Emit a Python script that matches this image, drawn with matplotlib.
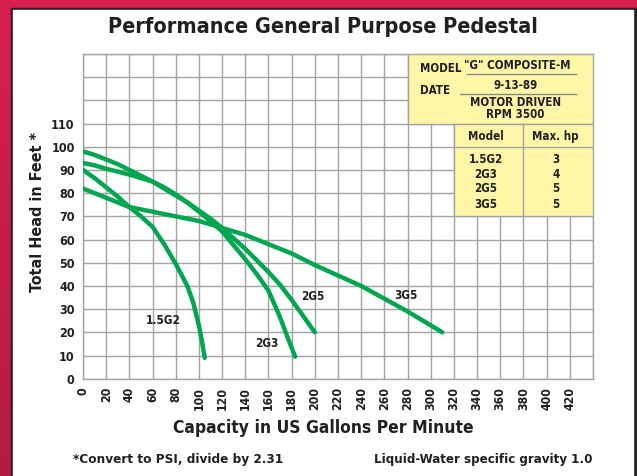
import matplotlib
matplotlib.use("Agg")
import matplotlib.pyplot as plt
import numpy as np
from matplotlib.patches import Rectangle
from matplotlib.colors import LinearSegmentedColormap

plt.rcParams['font.family'] = ['DejaVu Sans']
plt.rcParams['font.stretch'] = 'condensed'
plt.rcParams['font.weight'] = 'bold'

# pump curves (capacity gpm, head ft)
x_15g2 = [0, 10, 20, 30, 40, 50, 60, 70, 80, 90, 95, 100, 103, 105]
y_15g2 = [90, 86.5, 82.5, 78.5, 74, 70, 65.5, 58, 49.5, 40, 33, 23, 15, 9]

x_2g3 = [0, 10, 20, 30, 40, 50, 60, 70, 80, 90, 100, 110, 120, 130, 140, 150, 160, 170, 176, 183]
y_2g3 = [93, 92, 90.5, 89.3, 88, 86.5, 85, 82.5, 79.5, 76, 72, 68, 63.5, 57.5, 51.5, 45, 38, 26.5, 18.5, 9.5]

x_2g5 = [0, 10, 20, 30, 40, 50, 60, 70, 80, 90, 100, 110, 120, 130, 140, 150, 160, 170, 180, 190, 200]
y_2g5 = [98, 96.5, 94.5, 92.5, 90, 87.5, 85, 82, 79, 76, 72.5, 69, 65, 60.5, 56, 51, 46, 40.5, 34, 27, 20]

x_3g5 = [0, 20, 40, 60, 80, 100, 120, 140, 160, 180, 200, 220, 240, 260, 280, 300, 310]
y_3g5 = [82, 78, 74, 72, 70, 68, 65, 62, 58, 54, 49, 44.5, 40, 34.5, 29, 23, 20]

models = ['1.5G2', '2G3', '2G5', '3G5']
max_hp = ['3', '4', '5', '5']

xticks = list(range(0, 421, 20))
yticks = list(range(0, 111, 10))

green = '#00a650'
gridc = '#a3a3a3'
yellow = '#fff6a8'
ink = '#231f20'

fig = plt.figure(figsize=(6.37, 4.76), dpi=100)

# red frame with gradient
bg = fig.add_axes([0, 0, 1, 1], zorder=-10)
grad = np.linspace(0, 1, 256).reshape(-1, 1)
cm = LinearSegmentedColormap.from_list('r', ['#d81f4e', '#b41b40'])
bg.imshow(grad, aspect='auto', cmap=cm, extent=[0, 637, 476, 0])
bg.add_patch(Rectangle((11, 8), 626, 468, color='#222222'))
bg.add_patch(Rectangle((13, 10), 620, 466, color='white'))
bg.set_xlim(0, 637)
bg.set_ylim(476, 0)
bg.axis('off')

ax = fig.add_axes([83 / 637, 1 - 378.7 / 476, 510 / 637, 324.7 / 476])
ax.set_xlim(0, 440)
ax.set_ylim(0, 140)
ax.set_xticks(range(0, 441, 20), minor=True)
ax.set_yticks(range(0, 141, 10), minor=True)
ax.set_xticks(xticks)
ax.set_yticks(yticks)
ax.set_xticklabels([str(v) for v in xticks], rotation=90, fontsize=8.8, fontweight='bold')
ax.set_yticklabels([str(v) for v in yticks], fontsize=9, fontweight='bold')
ax.tick_params(which='both', length=0, pad=6, colors=ink)
ax.grid(which='both', color=gridc, linewidth=1)
for s in ax.spines.values():
    s.set_color(gridc)
    s.set_linewidth(1)
ax.set_facecolor('white')

# yellow info boxes
ax.add_patch(Rectangle((280, 110), 160, 30, facecolor=yellow, edgecolor=gridc, lw=1, zorder=3))
ax.add_patch(Rectangle((320, 70), 120, 40, facecolor=yellow, edgecolor=gridc, lw=1, zorder=3))
ax.plot([320, 440], [100, 100], color=gridc, lw=1, zorder=4)
ax.plot([380, 380], [70, 110], color=gridc, lw=1, zorder=4)

tk = dict(fontsize=8.3, fontweight='bold', color=ink, zorder=5)
ax.text(291, 133.9, 'MODEL', ha='left', va='center', **tk)
ax.text(375, 135.2, '"G" COMPOSITE-M', ha='center', va='center', **tk)
ax.plot([331, 425], [131.3, 131.3], color='#888888', lw=1, zorder=5)
ax.text(291, 124.4, 'DATE', ha='left', va='center', **tk)
ax.text(373, 126.6, '9-13-89', ha='center', va='center', **tk)
ax.plot([325, 425], [122.7, 122.7], color='#888888', lw=1, zorder=5)
ax.text(373, 119.3, 'MOTOR DRIVEN', ha='center', va='center', **tk)
ax.text(373, 114.1, 'RPM 3500', ha='center', va='center', **tk)
ax.text(347.4, 104.6, 'Model', ha='center', va='center', **tk)
ax.text(407.8, 104.6, 'Max. hp', ha='center', va='center', **tk)
row_y = [94.7, 88.2, 81.8, 75.3]
for m, hp, ry in zip(models, max_hp, row_y):
    ax.text(347.4, ry, m, ha='center', va='center', **tk)
    ax.text(407.8, ry, hp, ha='center', va='center', **tk)

# curves
for xs, ys in [(x_15g2, y_15g2), (x_2g3, y_2g3), (x_2g5, y_2g5), (x_3g5, y_3g5)]:
    ax.plot(xs, ys, color=green, lw=3.2, solid_capstyle='round', solid_joinstyle='round', zorder=6)

lk = dict(fontsize=8.5, fontweight='bold', color=ink, ha='center', va='center', zorder=7)
ax.text(69, 25, '1.5G2', **lk)
ax.text(159, 15.3, '2G3', **lk)
ax.text(198.6, 35.3, '2G5', **lk)
ax.text(278.5, 35.8, '3G5', **lk)

fig.text(323 / 637, 1 - 27 / 476, 'Performance General Purpose Pedestal', ha='center', va='center',
         fontsize=15.5, fontweight='bold', color=ink)
fig.text(38 / 637, 1 - 212 / 476, 'Total Head in Feet *', rotation=90, ha='center', va='center',
         fontsize=11.5, fontweight='bold', color=ink)
fig.text(323 / 637, 1 - 428 / 476, 'Capacity in US Gallons Per Minute', ha='center', va='center',
         fontsize=12.5, fontweight='bold', color=ink)
fig.text(73 / 637, 1 - 460 / 476, '*Convert to PSI, divide by 2.31', ha='left', va='center',
         fontsize=9.7, fontweight='bold', color=ink)
fig.text(593 / 637, 1 - 460 / 476, 'Liquid-Water specific gravity 1.0', ha='right', va='center',
         fontsize=9.5, fontweight='bold', color=ink)

fig.savefig('out.png', dpi=100)
